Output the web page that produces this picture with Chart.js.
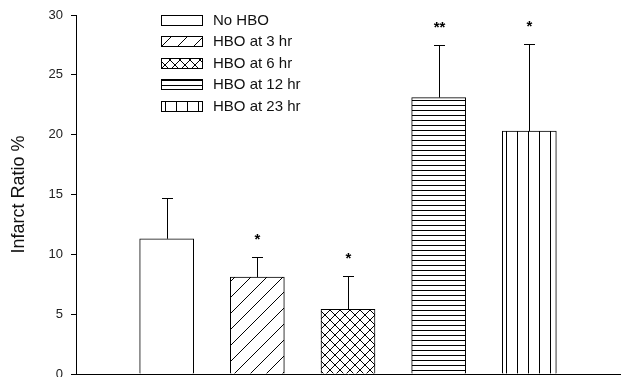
<!DOCTYPE html>
<html>
<head>
<meta charset="utf-8">
<script src="https://cdn.jsdelivr.net/npm/chart.js@4"></script>
<style>
  html, body { margin: 0; padding: 0; background: #fff; }
  #wrap { width: 624px; height: 377px; }
</style>
</head>
<body>
<div id="wrap"><canvas id="chart" width="624" height="377"></canvas></div>
<script>
// data
const groups = ['No HBO', 'HBO at 3 hr', 'HBO at 6 hr', 'HBO at 12 hr', 'HBO at 23 hr'];
const means = [11.3, 8.1, 5.4, 23.1, 20.3];
const errors = [3.4, 1.7, 2.8, 4.4, 7.3];
const marks = ['', '*', '*', '**', '*'];
const yTicks = [0, 5, 10, 15, 20, 25, 30];

// fill patterns for each group
function makePattern(kind) {
    const sizes = { plain: 4, diag: 16, cross: 10, horiz: 5, vert: 11 };
    const s = sizes[kind];
    const c = document.createElement('canvas');
    c.width = s; c.height = s;
    const g = c.getContext('2d');
    g.fillStyle = '#fff';
    g.fillRect(0, 0, s, s);
    g.strokeStyle = '#000';
    g.lineWidth = 1;
    g.beginPath();
    if (kind === 'diag') {
        g.moveTo(0, s); g.lineTo(s, 0);
        g.moveTo(-2, 2); g.lineTo(2, -2);
        g.moveTo(s - 2, s + 2); g.lineTo(s + 2, s - 2);
    } else if (kind === 'cross') {
        g.moveTo(0, s); g.lineTo(s, 0);
        g.moveTo(0, 0); g.lineTo(s, s);
    } else if (kind === 'horiz') {
        g.moveTo(0, 0.5); g.lineTo(s, 0.5);
    } else if (kind === 'vert') {
        g.moveTo(0.5, 0); g.lineTo(0.5, s);
    }
    g.stroke();
    return g.createPattern(c, 'repeat');
}
const fills = ['plain', 'diag', 'cross', 'horiz', 'vert'].map(makePattern);

// error bars + significance marks
const errorBars = {
    id: 'errorBars',
    afterDatasetsDraw(chart) {
        const ctx = chart.ctx;
        const y = chart.scales.y;
        const meta = chart.getDatasetMeta(0);
        ctx.save();
        ctx.strokeStyle = '#000';
        ctx.lineWidth = 1;
        ctx.fillStyle = '#000';
        ctx.font = 'bold 15px "Liberation Sans", Arial, sans-serif';
        ctx.textAlign = 'center';
        ctx.textBaseline = 'middle';
        means.forEach((m, i) => {
            const bar = meta.data[i + 1];
            const x = Math.round(bar.x) + 0.5;
            const top = y.getPixelForValue(m);
            const hi = Math.round(y.getPixelForValue(m + errors[i])) + 0.5;
            ctx.beginPath();
            ctx.moveTo(x, top);
            ctx.lineTo(x, hi);
            ctx.moveTo(x - 5.5, hi);
            ctx.lineTo(x + 5.5, hi);
            ctx.stroke();
            if (marks[i]) ctx.fillText(marks[i], x, hi - 18);
        });
        ctx.restore();
    }
};

// legend box drawn inside the plot, top left
const boxLegend = {
    id: 'boxLegend',
    afterDraw(chart) {
        const ctx = chart.ctx;
        const area = chart.chartArea;
        const x0 = area.left + 85;
        ctx.save();
        ctx.font = '15px "Liberation Sans", Arial, sans-serif';
        ctx.textBaseline = 'middle';
        ctx.textAlign = 'left';
        groups.forEach((g, i) => {
            const cy = Math.round(area.top + 5 + i * 21.4);
            ctx.fillStyle = fills[i];
            ctx.fillRect(x0, cy - 5, 41, 10);
            ctx.strokeStyle = '#000';
            ctx.lineWidth = 1;
            ctx.strokeRect(x0 + 0.5, cy - 4.5, 41, 10);
            ctx.fillStyle = '#111';
            ctx.fillText(g, x0 + 52, cy + 1);
        });
        ctx.restore();
    }
};

new Chart(document.getElementById('chart'), {
    type: 'bar',
    data: {
        labels: ['', ...groups, ''],
        datasets: [{
            label: 'Infarct Ratio',
            data: [null, ...means, null],
            backgroundColor: [null, ...fills, null],
            borderColor: '#000',
            borderWidth: 1,
            barThickness: 54
        }]
    },
    options: {
        responsive: false,
        animation: false,
        devicePixelRatio: 1,
        layout: { padding: { top: 15, right: 4, bottom: 3, left: 0 } },
        plugins: { legend: { display: false }, tooltip: { enabled: false } },
        scales: {
            x: {
                type: 'category',
                offset: false,
                grid: { display: false, drawTicks: false },
                ticks: { display: false },
                border: { display: true, color: '#000', width: 1 },
                afterFit(scale) {
                    scale.height = 0;
                    scale.paddingLeft = 0; scale.paddingRight = 0;
                }
            },
            y: {
                min: 0,
                max: 30,
                afterBuildTicks(scale) { scale.ticks = yTicks.map(v => ({ value: v })); },
                grid: { drawOnChartArea: false, drawTicks: true, tickLength: 5, color: '#000' },
                border: { display: true, color: '#000', width: 1 },
                ticks: {
                    padding: 8,
                    color: '#222',
                    font: { family: '"Liberation Sans", Arial, sans-serif', size: 13 }
                },
                title: {
                    display: true,
                    text: 'Infarct Ratio %',
                    color: '#111',
                    padding: { top: 8, bottom: 0 },
                    font: { family: '"Liberation Sans", Arial, sans-serif', size: 18 }
                },
                afterFit(scale) {
                    scale.width = 76;
                    scale.paddingTop = 0; scale.paddingBottom = 0;
                }
            }
        }
    },
    plugins: [errorBars, boxLegend]
});
</script>
</body>
</html>
